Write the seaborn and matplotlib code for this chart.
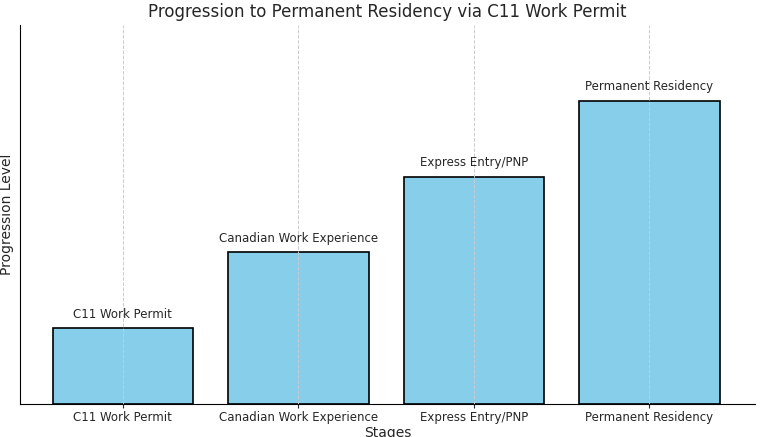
import matplotlib
matplotlib.use("Agg")
import matplotlib.pyplot as plt
import seaborn as sns
import pandas as pd

stages = ["C11 Work Permit", "Canadian Work Experience", "Express Entry/PNP", "Permanent Residency"]
levels = [1, 2, 3, 4]

sns.set_style("white")
plt.rcParams['font.family'] = ['DejaVu Sans']
fig = plt.figure(figsize=(7.71, 4.37), dpi=100)
ax = fig.add_axes([0.026, 0.075, 0.953, 0.868])
df = pd.DataFrame({"Stages": stages, "Progression Level": levels})
sns.barplot(data=df, x="Stages", y="Progression Level", color="skyblue", saturation=1,
            edgecolor="black", linewidth=1.2, width=0.8, ax=ax, zorder=2)
for i, (s, v) in enumerate(zip(stages, levels)):
    ax.text(i, v + 0.1, s, ha="center", va="bottom", fontsize=8.5)
ax.set_ylim(0, 5)
ax.set_xlim(-0.585, 3.6)
ax.set_yticks([])
ax.grid(axis="x", linestyle="--", color="#cccccc", linewidth=0.7, zorder=3)
ax.set_axisbelow(False)
for sp in ["top", "right"]:
    ax.spines[sp].set_visible(False)
for sp in ["left", "bottom"]:
    ax.spines[sp].set_color("black")
ax.tick_params(axis="x", labelsize=8.5, length=3, pad=2, bottom=True)
ax.set_xlabel("Stages", fontsize=10, labelpad=1)
ax.set_ylabel("Progression Level", fontsize=10, labelpad=4)
ax.set_title("Progression to Permanent Residency via C11 Work Permit", fontsize=12)
fig.savefig("out.png", dpi=100)
